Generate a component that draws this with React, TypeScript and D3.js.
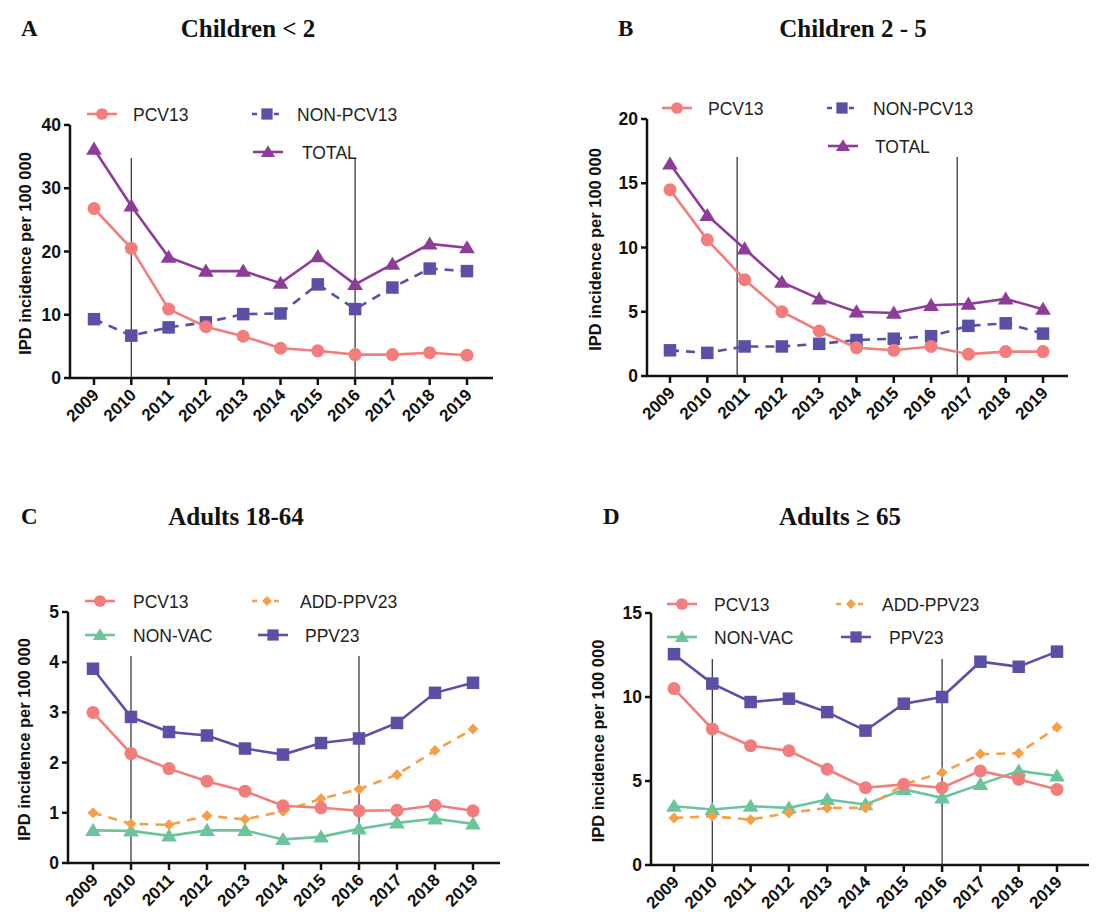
import React from "react";
import * as d3 from "d3";

const years = [2009, 2010, 2011, 2012, 2013, 2014, 2015, 2016, 2017, 2018, 2019];

// Panel A: children < 2
const aPcv13 = [26.8, 20.5, 10.9, 8.1, 6.6, 4.7, 4.3, 3.7, 3.7, 4.0, 3.6];
const aNonPcv13 = [9.3, 6.7, 8.0, 8.8, 10.1, 10.2, 14.8, 10.9, 14.3, 17.3, 16.9];
const aTotal = [36.2, 27.2, 19.1, 16.9, 16.9, 15.0, 19.2, 14.8, 18.0, 21.2, 20.6];

// Panel B: children 2 - 5
const bPcv13 = [14.5, 10.6, 7.5, 5.0, 3.5, 2.2, 2.0, 2.3, 1.7, 1.9, 1.9];
const bNonPcv13 = [2.0, 1.8, 2.3, 2.3, 2.5, 2.8, 2.9, 3.1, 3.9, 4.1, 3.3];
const bTotal = [16.5, 12.5, 9.9, 7.3, 6.0, 5.0, 4.9, 5.5, 5.6, 6.0, 5.2];

// Panel C: adults 18-64
const cPcv13 = [3.0, 2.18, 1.88, 1.63, 1.43, 1.14, 1.1, 1.04, 1.05, 1.15, 1.04];
const cAddPpv23 = [1.0, 0.78, 0.76, 0.94, 0.87, 1.03, 1.28, 1.47, 1.76, 2.24, 2.67];
const cNonVac = [0.65, 0.64, 0.54, 0.65, 0.65, 0.47, 0.52, 0.68, 0.8, 0.88, 0.78];
const cPpv23 = [3.87, 2.91, 2.61, 2.54, 2.28, 2.16, 2.39, 2.48, 2.79, 3.39, 3.59];

// Panel D: adults >= 65
const dPcv13 = [10.5, 8.1, 7.1, 6.8, 5.7, 4.6, 4.8, 4.6, 5.6, 5.1, 4.5];
const dAddPpv23 = [2.8, 2.9, 2.7, 3.1, 3.4, 3.4, 4.8, 5.5, 6.6, 6.65, 8.2];
const dNonVac = [3.5, 3.3, 3.5, 3.4, 3.9, 3.6, 4.5, 4.0, 4.8, 5.6, 5.3];
const dPpv23 = [12.55, 10.8, 9.7, 9.9, 9.1, 8.0, 9.6, 10.0, 12.1, 11.8, 12.7];

const aTicks = [0, 10, 20, 30, 40];
const bTicks = [0, 5, 10, 15, 20];
const cTicks = [0, 1, 2, 3, 4, 5];
const dTicks = [0, 5, 10, 15];

const aLines = [2010, 2016];
const bLines = [2010.8, 2016.7];
const cLines = [2010, 2016];
const dLines = [2010, 2016];

const PINK = "#f27d7c";
const BLUE = "#5a51a6";
const PURPLE = "#8d3c97";
const ORANGE = "#f5a049";
const GREEN = "#6cc59a";

type Marker = "circle" | "square" | "triangle" | "diamond";
type Series = { name: string; values: number[]; color: string; marker: Marker; dashed?: boolean };

const seriesA: Series[] = [
  { name: "PCV13", values: aPcv13, color: PINK, marker: "circle" },
  { name: "NON-PCV13", values: aNonPcv13, color: BLUE, marker: "square", dashed: true },
  { name: "TOTAL", values: aTotal, color: PURPLE, marker: "triangle" },
];
const seriesB: Series[] = [
  { name: "PCV13", values: bPcv13, color: PINK, marker: "circle" },
  { name: "NON-PCV13", values: bNonPcv13, color: BLUE, marker: "square", dashed: true },
  { name: "TOTAL", values: bTotal, color: PURPLE, marker: "triangle" },
];
const seriesC: Series[] = [
  { name: "PCV13", values: cPcv13, color: PINK, marker: "circle" },
  { name: "ADD-PPV23", values: cAddPpv23, color: ORANGE, marker: "diamond", dashed: true },
  { name: "NON-VAC", values: cNonVac, color: GREEN, marker: "triangle" },
  { name: "PPV23", values: cPpv23, color: BLUE, marker: "square" },
];
const seriesD: Series[] = [
  { name: "PCV13", values: dPcv13, color: PINK, marker: "circle" },
  { name: "ADD-PPV23", values: dAddPpv23, color: ORANGE, marker: "diamond", dashed: true },
  { name: "NON-VAC", values: dNonVac, color: GREEN, marker: "triangle" },
  { name: "PPV23", values: dPpv23, color: BLUE, marker: "square" },
];

const MarkerShape = ({ type, x, y, color, scale = 1 }: { type: Marker; x: number; y: number; color: string; scale?: number }) => {
  if (type === "circle") return <circle cx={x} cy={y} r={6.5 * scale} fill={color} />;
  if (type === "square") {
    const s = 12.5 * scale;
    return <rect x={x - s / 2} y={y - s / 2} width={s} height={s} fill={color} />;
  }
  if (type === "triangle") {
    const s = 7.5 * scale;
    return <path d={`M${x},${y - s} L${x + s * 1.05},${y + s * 0.75} L${x - s * 1.05},${y + s * 0.75}Z`} fill={color} />;
  }
  const s = 5.5 * scale;
  return <path d={`M${x},${y - s} L${x + s},${y} L${x},${y + s} L${x - s},${y}Z`} fill={color} />;
};

type Legend = { x: number; y: number; tx: number };

type PanelProps = {
  letter: string;
  title: string;
  letterX: number;
  titleX: number;
  titleY: number;
  axisX: number;
  yTop: number;
  yBottom: number;
  x0: number;
  x1: number;
  xEnd: number;
  yMax: number;
  ticks: number[];
  vlines: number[];
  vTop: number;
  labelX: number;
  series: Series[];
  legend: Legend[];
};

const Panel = (p: PanelProps) => {
  const x = d3.scaleLinear().domain([2009, 2019]).range([p.x0, p.x1]);
  const y = d3.scaleLinear().domain([0, p.yMax]).range([p.yBottom, p.yTop]);
  const line = (vals: number[]) =>
    d3.line<number>().x((_, i) => x(years[i])).y((d) => y(d))(vals) || "";
  const sans = "Liberation Sans, Arial, sans-serif";
  const serif = "Liberation Serif, Times New Roman, serif";
  return (
    <g>
      <text x={p.letterX} y={p.titleY + 8} fontFamily={serif} fontWeight="bold" fontSize={23} fill="#111">
        {p.letter}
      </text>
      <text x={p.titleX} y={p.titleY + 9} textAnchor="middle" fontFamily={serif} fontWeight="bold" fontSize={25} fill="#111">
        {p.title}
      </text>
      <text
        transform={`translate(${p.labelX},${(p.yTop + p.yBottom) / 2 + 2}) rotate(-90)`}
        textAnchor="middle"
        dominantBaseline="middle"
        fontFamily={sans}
        fontWeight="bold"
        fontSize={16.5}
        fill="#111"
      >
        IPD incidence per 100 000
      </text>
      {/* axes */}
      <line x1={p.axisX} x2={p.axisX} y1={p.yTop} y2={p.yBottom + 1} stroke="#111" strokeWidth={2.5} />
      <line x1={p.axisX - 1} x2={p.xEnd} y1={p.yBottom} y2={p.yBottom} stroke="#111" strokeWidth={2.5} />
      {p.ticks.map((t) => (
        <g key={t}>
          <line x1={p.axisX - 6} x2={p.axisX} y1={y(t)} y2={y(t)} stroke="#111" strokeWidth={2.5} />
          <text x={p.axisX - 9} y={y(t)} textAnchor="end" dominantBaseline="central" fontFamily={sans} fontWeight="bold" fontSize={17.5} fill="#111">
            {t}
          </text>
        </g>
      ))}
      {years.map((yr) => (
        <g key={yr}>
          <line x1={x(yr)} x2={x(yr)} y1={p.yBottom} y2={p.yBottom + 7} stroke="#111" strokeWidth={2.5} />
          <text
            transform={`translate(${x(yr) + 6},${p.yBottom + 18}) rotate(-45)`}
            textAnchor="end"
            fontFamily={sans}
            fontWeight="bold"
            fontSize={17}
            fill="#111"
          >
            {yr}
          </text>
        </g>
      ))}
      {p.vlines.map((v) => (
        <line key={v} x1={x(v)} x2={x(v)} y1={p.vTop} y2={p.yBottom} stroke="#2a2a3a" strokeWidth={1.2} />
      ))}
      {/* series, drawn in reverse so PCV13 ends up on top */}
      {[...p.series].reverse().map((s) => (
        <g key={s.name}>
          <path d={line(s.values)} fill="none" stroke={s.color} strokeWidth={2.6} strokeDasharray={s.dashed ? "9,7" : undefined} />
          {s.values.map((v, i) => (
            <MarkerShape key={i} type={s.marker} x={x(years[i])} y={y(v)} color={s.color} />
          ))}
        </g>
      ))}
      {/* legend */}
      {p.series.map((s, i) => {
        const l = p.legend[i];
        return (
          <g key={s.name}>
            <line x1={l.x} x2={l.x + 30} y1={l.y} y2={l.y} stroke={s.color} strokeWidth={2.6} strokeDasharray={s.dashed ? "5,6" : undefined} />
            <MarkerShape type={s.marker} x={l.x + 15} y={l.y} color={s.color} scale={0.9} />
            <text x={l.tx} y={l.y + 1} dominantBaseline="central" fontFamily={sans} fontSize={17.5} fill="#222">
              {s.name}
            </text>
          </g>
        );
      })}
    </g>
  );
};

const App = () => {
  return (
    <svg width={1081} height={904} style={{ display: "block", background: "#fff" }}>
      <g transform="translate(-8,-8)">
        <Panel
          letter="A"
          title="Children < 2"
          letterX={21}
          titleX={248}
          titleY={28}
          axisX={70}
          yTop={125}
          yBottom={378}
          x0={94}
          x1={467}
          xEnd={493}
          yMax={40}
          ticks={aTicks}
          vlines={aLines}
          vTop={158}
          labelX={27}
          series={seriesA}
          legend={[
            { x: 87, y: 114, tx: 133 },
            { x: 252, y: 114, tx: 297 },
            { x: 253, y: 152, tx: 302 },
          ]}
        />
        <Panel
          letter="B"
          title="Children 2 - 5"
          letterX={618}
          titleX={853}
          titleY={28}
          axisX={647}
          yTop={119}
          yBottom={376}
          x0={670}
          x1={1043}
          xEnd={1068}
          yMax={20}
          ticks={bTicks}
          vlines={bLines}
          vTop={157}
          labelX={597}
          series={seriesB}
          legend={[
            { x: 662, y: 108, tx: 708 },
            { x: 827, y: 108, tx: 873 },
            { x: 828, y: 146, tx: 875 },
          ]}
        />
        <Panel
          letter="C"
          title="Adults  18-64"
          letterX={21}
          titleX={236}
          titleY={516}
          axisX={68}
          yTop={612}
          yBottom={863}
          x0={93}
          x1={473}
          xEnd={500}
          yMax={5}
          ticks={cTicks}
          vlines={cLines}
          vTop={656}
          labelX={26}
          series={seriesC}
          legend={[
            { x: 85, y: 601, tx: 133 },
            { x: 252, y: 601, tx: 300 },
            { x: 85, y: 635, tx: 133 },
            { x: 258, y: 635, tx: 305 },
          ]}
        />
        <Panel
          letter="D"
          title="Adults  ≥ 65"
          letterX={603}
          titleX={840}
          titleY={516}
          axisX={651}
          yTop={613}
          yBottom={865}
          x0={674}
          x1={1057}
          xEnd={1092}
          yMax={15}
          ticks={dTicks}
          vlines={dLines}
          vTop={659}
          labelX={600}
          series={seriesD}
          legend={[
            { x: 667, y: 604, tx: 714 },
            { x: 836, y: 604, tx: 882 },
            { x: 667, y: 637, tx: 714 },
            { x: 841, y: 637, tx: 889 },
          ]}
        />
      </g>
    </svg>
  );
};

export default App;
